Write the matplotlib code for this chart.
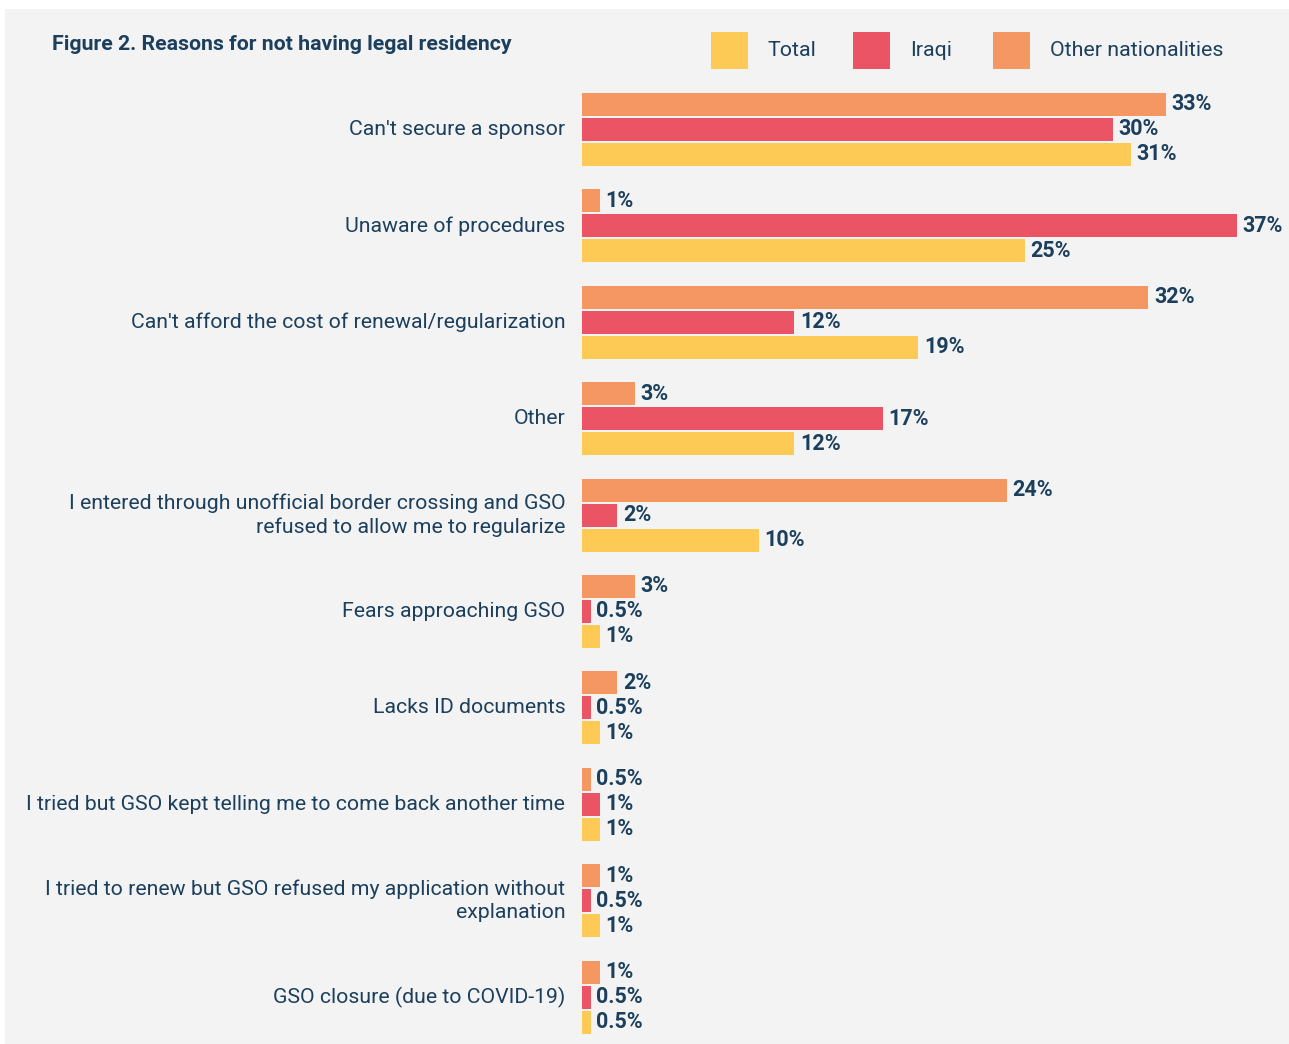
import matplotlib.pyplot as plt
from matplotlib.patches import Rectangle
import numpy as np

# ==============================
# DATA
# ==============================
categories = [
    "Can't secure a sponsor",
    "Unaware of procedures",
    "Can't afford the cost of renewal/regularization",
    "Other",
    "I entered through unofficial border crossing and GSO\nrefused to allow me to regularize",
    "Fears approaching GSO",
    "Lacks ID documents",
    "I tried but GSO kept telling me to come back another time",
    "I tried to renew but GSO refused my application without\nexplanation",
    "GSO closure (due to COVID-19)",
]
other_nat = [33, 1, 32, 3, 24, 3, 2, 0.5, 1, 1]
iraqi = [30, 37, 12, 17, 2, 0.5, 0.5, 1, 0.5, 0.5]
total = [31, 25, 19, 12, 10, 1, 1, 1, 1, 0.5]

series_names = ["Total", "Iraqi", "Other nationalities"]

# ==============================
# STYLE
# ==============================
C_TOTAL = "#FDCA56"
C_IRAQI = "#EA5464"
C_OTHER = "#F59763"
NAVY = "#1B3F5C"
BG = "#F3F3F3"

plt.rcParams['font.family'] = ['Roboto', 'DejaVu Sans']

W, H = 1289, 1044
fig = plt.figure(figsize=(W / 100, H / 100), dpi=100)
fig.patch.set_facecolor("white")
fig.patches.append(Rectangle((5 / W, 0), 1 - 5 / W, 1 - 9 / H,
                             transform=fig.transFigure, facecolor=BG,
                             edgecolor="none", zorder=-10))

# axes: left edge = zero line of bars
ax_left, ax_right = 582, 1270
ax_top, ax_bot = 80, 1044
ax = fig.add_axes([ax_left / W, 1 - ax_bot / H,
                   (ax_right - ax_left) / W, (ax_bot - ax_top) / H])
ax.set_facecolor("none")

px_per_pct = 17.7
ax.set_xlim(0, (ax_right - ax_left) / px_per_pct)

n = len(categories)
step = 96.4  # px between groups
pitch = 25 / step
bar_h = 23 / step
y = np.arange(n)
ax.set_ylim(n - 1 + (ax_bot - 997) / step, -(129.5 - ax_top) / step)

series = [
    (other_nat, C_OTHER, -pitch),
    (iraqi, C_IRAQI, 0.0),
    (total, C_TOTAL, pitch),
]

def fmt(v):
    return f"{v:g}%"

for vals, col, off in series:
    ax.barh(y + off, vals, height=bar_h, color=col, edgecolor="none")
    for yi, v in zip(y, vals):
        ax.annotate(fmt(v), (v, yi + off), xytext=(4, 0),
                    textcoords="offset points", va="center", ha="left",
                    fontsize=15.5, fontweight="bold", color=NAVY)

for yi, lab in zip(y, categories):
    ax.annotate(lab, (0, yi), xytext=(-12, 0), textcoords="offset points",
                va="center", ha="right", fontsize=15.3, color=NAVY,
                multialignment="right", linespacing=1.25)

ax.set_xticks([])
ax.set_yticks([])
for s in ax.spines.values():
    s.set_visible(False)

# title
fig.text(52 / W, 1 - 45 / H, "Figure 2. Reasons for not having legal residency",
         fontsize=15.3, fontweight="bold", color=NAVY, va="center", ha="left")

# legend
leg_items = [("Total", C_TOTAL, 711), ("Iraqi", C_IRAQI, 853),
             ("Other nationalities", C_OTHER, 993)]
for name, col, x0 in leg_items:
    fig.patches.append(Rectangle((x0 / W, 1 - 69 / H), 37 / W, 37 / H,
                                 transform=fig.transFigure, facecolor=col,
                                 edgecolor="none"))
    fig.text((x0 + 57) / W, 1 - 50 / H, name, fontsize=15.4, color=NAVY,
             va="center", ha="left")

fig.savefig("out.png", dpi=100, facecolor=fig.get_facecolor())
